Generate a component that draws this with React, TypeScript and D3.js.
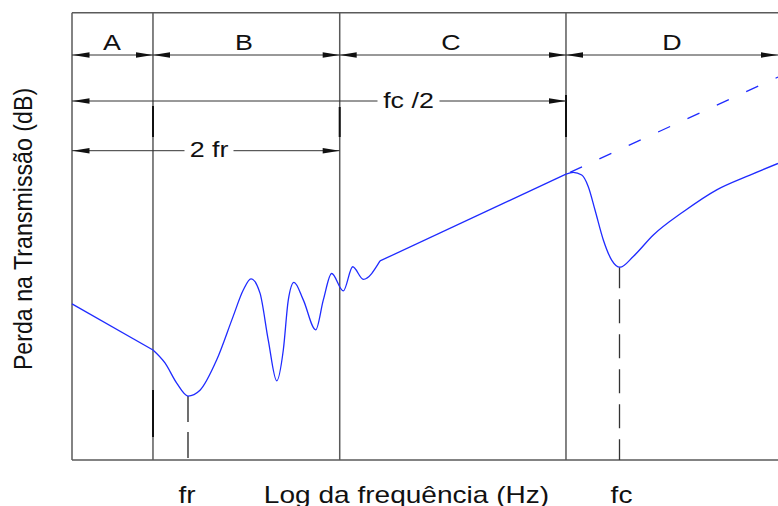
import React from 'react';
import * as d3 from 'd3';

type P = [number, number];

// Regions along log-frequency axis (0..100 arbitrary log units)
const regionLabels = ['A', 'B', 'C', 'D'];
const regionBounds = [0, 11.47, 37.92, 69.97, 100];
const frValue = 16.43;
const fcValue = 77.55;

// Transmission loss curve pieces (0..100 arbitrary dB units)
const stiffnessLine: P[] = [[0, 34.9], [11.47, 24.6]];
const resonanceCurve: P[] = [
  [11.47, 24.6], [13.17, 21.7], [14.83, 17.2], [16.43, 14.3], [18.13, 15.6],
  [20.5, 22.4], [22.8, 32.0], [24.26, 38.0], [25.35, 40.5], [26.63, 37.3],
  [27.8, 26.8], [29.0, 17.7], [29.93, 24.6], [30.64, 35.8], [31.44, 39.7],
  [32.76, 35.8], [34.52, 29.1], [35.6, 35.8], [36.78, 41.7], [38.43, 37.8],
  [39.76, 43.2], [41.26, 40.4], [43.63, 44.5],
];
const massLawLine: P[] = [[43.63, 44.5], [69.97, 63.9]];
const massLawExtension: P[] = [[69.97, 63.9], [100, 85.6]];
const coincidenceCurve: P[] = [
  [69.97, 63.9], [71.0, 64.3], [72.2, 63.7], [73.13, 61.1], [74.08, 55.9],
  [75.26, 49.2], [76.44, 44.7], [77.62, 43.1], [79.5, 45.5], [82.34, 50.3],
  [86.59, 55.5], [91.32, 60.4], [96.03, 63.7], [100, 66.3],
];

const xLabel = 'Log da frequência (Hz)';
const yLabel = 'Perda na Transmissão (dB)';
const frLabel = 'fr';
const fcLabel = 'fc';
const halfFcLabel = 'fc /2';
const twoFrLabel = '2 fr';

const FONT = '"Liberation Sans", Arial, Helvetica, sans-serif';
const SX = 1.22;

function HText({ x, y, size, children }: { x: number; y: number; size: number; children: React.ReactNode }) {
  return (
    <text transform={`translate(${x},${y}) scale(${SX},1)`} textAnchor="middle" fontSize={size} fontFamily={FONT} fill="#111">
      {children}
    </text>
  );
}

function Arrow({ tip, y, dir }: { tip: number; y: number; dir: number }) {
  const L = 17, h = 2.7;
  const b = tip - dir * L;
  return <polygon points={`${tip},${y} ${b},${y - h} ${b},${y + h}`} fill="#111" />;
}

export default function App() {
  const W = 778, H = 506;
  const left = 72, right = 778, top = 12.7, bottom = 460;
  const x = d3.scaleLinear().domain([0, 100]).range([left, right]);
  const y = d3.scaleLinear().domain([0, 100]).range([bottom, top]);
  const lin = d3.line<P>().x(d => x(d[0])).y(d => y(d[1]));
  const smooth = d3.line<P>().x(d => x(d[0])).y(d => y(d[1])).curve(d3.curveMonotoneX);

  const blue = '#1f2bff';
  const frame = '#5a5a5a';
  const dim = '#333';

  const rowTop = 55, rowHalf = 101, rowTwo = 150.7;
  const halfText = 408.5, halfGap = 31;
  const twoText = 209, twoGap = 24.5;

  const bx = regionBounds.map(b => x(b));

  // extension line thick segments [boundary index, y0, y1]
  const thick: [number, number, number][] = [
    [1, 106, 137], [1, 390, 437], [2, 107, 137], [3, 95, 137],
  ];

  const frMinY = y(resonanceCurve[3][1]);
  const fcMinY = y(coincidenceCurve[7][1]);

  return (
    <div style={{ position: 'absolute', left: 0, top: 0 }}>
      <svg width={W} height={H} style={{ display: 'block', background: '#fff' }}>
        {/* frame */}
        <line x1={left} x2={right} y1={top} y2={top} stroke={frame} strokeWidth={1.5} />
        <line x1={left} x2={right} y1={bottom} y2={bottom} stroke={frame} strokeWidth={1.5} />
        {bx.slice(0, 4).map((b, i) => (
          <line key={i} x1={b} x2={b} y1={top} y2={bottom} stroke={frame} strokeWidth={1.5} />
        ))}
        {thick.map(([i, a, c], k) => (
          <line key={k} x1={bx[i]} x2={bx[i]} y1={a} y2={c} stroke="#111" strokeWidth={2} />
        ))}

        {/* top row region dimensions */}
        <line x1={left} x2={right} y1={rowTop} y2={rowTop} stroke={dim} strokeWidth={1} />
        {regionLabels.map((lab, i) => (
          <g key={lab}>
            <Arrow tip={bx[i] + (i === 0 ? 0.5 : 0)} y={rowTop} dir={-1} />
            <Arrow tip={bx[i + 1]} y={rowTop} dir={1} />
            <HText x={(bx[i] + bx[i + 1]) / 2 + [-0.5, -2.5, -2, 0][i]} y={50} size={22}>{lab}</HText>
          </g>
        ))}

        {/* fc/2 row */}
        <line x1={left} x2={halfText - halfGap} y1={rowHalf} y2={rowHalf} stroke={dim} strokeWidth={1} />
        <line x1={halfText + halfGap} x2={bx[3]} y1={rowHalf} y2={rowHalf} stroke={dim} strokeWidth={1} />
        <Arrow tip={left + 0.5} y={rowHalf} dir={-1} />
        <Arrow tip={bx[3]} y={rowHalf} dir={1} />
        <HText x={halfText} y={107.5} size={22}>{halfFcLabel}</HText>

        {/* 2 fr row */}
        <line x1={left} x2={twoText - twoGap} y1={rowTwo} y2={rowTwo} stroke={dim} strokeWidth={1} />
        <line x1={twoText + twoGap} x2={bx[2]} y1={rowTwo} y2={rowTwo} stroke={dim} strokeWidth={1} />
        <Arrow tip={left + 0.5} y={rowTwo} dir={-1} />
        <Arrow tip={bx[2]} y={rowTwo} dir={1} />
        <HText x={twoText} y={157} size={22}>{twoFrLabel}</HText>

        {/* fr and fc dashed markers */}
        <line x1={x(frValue)} x2={x(frValue)} y1={frMinY} y2={bottom} stroke="#222" strokeWidth={1.3} strokeDasharray="26 10" />
        <line x1={x(fcValue)} x2={x(fcValue)} y1={fcMinY} y2={bottom} stroke="#333" strokeWidth={1.3} strokeDasharray="24 11" strokeDashoffset={3} />

        {/* curve */}
        <path d={lin(stiffnessLine) || ''} fill="none" stroke={blue} strokeWidth={1.3} />
        <path d={smooth(resonanceCurve) || ''} fill="none" stroke={blue} strokeWidth={1.3} />
        <path d={lin(massLawLine) || ''} fill="none" stroke={blue} strokeWidth={1.3} />
        <path d={lin(massLawExtension) || ''} fill="none" stroke={blue} strokeWidth={1.3} strokeDasharray="13.2 19.1" strokeDashoffset={27.9} />
        <path d={smooth(coincidenceCurve) || ''} fill="none" stroke={blue} strokeWidth={1.3} />

        {/* axis labels */}
        <HText x={x(frValue) - 1} y={502.5} size={23}>{frLabel}</HText>
        <HText x={406.5} y={502.5} size={23}>{xLabel}</HText>
        <HText x={x(fcValue) + 2} y={502.5} size={23}>{fcLabel}</HText>
        <text transform={`translate(31.7,229) rotate(-90) scale(1,1.1)`} textAnchor="middle" fontSize={23.2} fontFamily={FONT} fill="#111">
          {yLabel}
        </text>
      </svg>
    </div>
  );
}
